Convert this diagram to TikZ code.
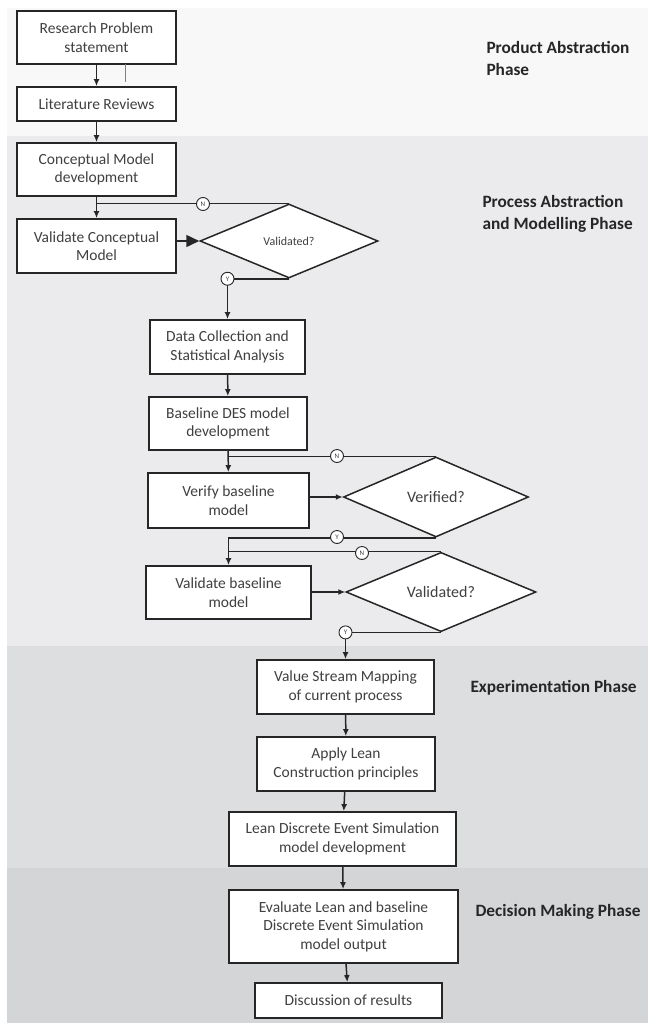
\documentclass[tikz,border=0pt]{standalone}
\usepackage{fontspec}
\setmainfont{Carlito}
\usetikzlibrary{shapes.geometric,arrows.meta,calc}
\definecolor{ink}{HTML}{262626}
\definecolor{txt}{HTML}{404040}
\definecolor{bandA}{HTML}{F8F8F8}
\definecolor{bandB}{HTML}{EBEBED}
\definecolor{bandC}{HTML}{DDDEE0}
\definecolor{bandD}{HTML}{D4D5D7}
\tikzset{
  stepbox/.style={draw=ink, line width=1.8pt, fill=white, text=txt, align=center,
    inner sep=0pt, font=\fontsize{15.5}{18.5}\selectfont},
  decision/.style={diamond, draw=ink, line width=1.5pt, fill=white, text=txt,
    inner sep=0pt, font=\fontsize{16}{18}\selectfont},
  tag/.style={circle, draw=ink, line width=0.9pt, fill=white, text=txt,
    minimum size=13pt, inner sep=0pt, font=\fontsize{7}{8}\selectfont},
  flow/.style={draw=ink, line width=1.5pt, -{Latex[length=7pt,width=6pt]}},
  link/.style={draw=ink, line width=1.5pt},
  phase/.style={anchor=west, align=left, text=ink,
    font=\fontsize{17.3}{22}\selectfont\bfseries},
}
\begin{document}
\begin{tikzpicture}[x=1pt,y=-1pt]
\useasboundingbox (0,0) rectangle (648,1023);
% phase bands
\fill[bandA] (7,8) rectangle (648,136);
\fill[bandB] (7,136) rectangle (648,646);
\fill[bandC] (7,646) rectangle (648,868);
\fill[bandD] (7,868) rectangle (648,1023);

% phase titles
\node[phase] (pA) at (483,58) {Product Abstraction\\Phase};
\node[phase] (pB) at (479,214) {Process Abstraction\\and Modelling Phase};
\node[phase] (pC) at (467,688) {Experimentation Phase};
\node[phase] (pD) at (472,912) {Decision Making Phase};

% process steps
\node[stepbox, minimum width=159pt, minimum height=53pt] (rp) at (96.5,37.5) {Research Problem\\statement};
\node[stepbox, minimum width=159pt, minimum height=34pt] (lr) at (96.5,104) {Literature Reviews};
\node[stepbox, minimum width=159pt, minimum height=53pt] (cm) at (96.5,169.5) {Conceptual Model\\development};
\node[stepbox, minimum width=159pt, minimum height=54pt] (vc) at (96.5,246) {Validate Conceptual\\Model};
\node[decision, minimum width=178pt, minimum height=74pt, font=\fontsize{12}{14}\selectfont] (d1) at (289,241) {Validated?};

\node[stepbox, minimum width=155pt, minimum height=54pt] (dc) at (227.5,347) {Data Collection and\\Statistical Analysis};
\node[stepbox, minimum width=158pt, minimum height=53pt] (bl) at (228,423.5) {Baseline DES model\\development};
\node[stepbox, minimum width=161pt, minimum height=55pt] (vb) at (228.5,500.5) {Verify baseline\\model};
\node[decision, minimum width=185pt, minimum height=80pt] (d2) at (436,497) {Verified?};
\node[stepbox, minimum width=165pt, minimum height=53pt] (vl) at (228.5,592.5) {Validate baseline\\model};
\node[decision, minimum width=190pt, minimum height=78pt] (d3) at (441,592) {Validated?};

\node[stepbox, minimum width=177pt, minimum height=54pt] (vs) at (345.5,687) {Value Stream Mapping\\of current process};
\node[stepbox, minimum width=178pt, minimum height=54pt] (al) at (346,764) {Apply Lean\\Construction principles};
\node[stepbox, minimum width=227pt, minimum height=54pt] (ld) at (342.5,839) {Lean Discrete Event Simulation\\model development};
\node[stepbox, minimum width=229pt, minimum height=73pt] (ev) at (343.5,926.5) {Evaluate Lean and baseline\\Discrete Event Simulation\\model output};
\node[stepbox, minimum width=187pt, minimum height=35pt] (ds) at (348.5,1000.5) {Discussion of results};

% main flow
\path[flow] (rp) -- (lr);
\coordinate (tick) at (125,64);
\draw[gray, line width=0.6pt] (tick) -- ++(0,18);
\path[flow] (lr) -- (cm);
\path[flow] (cm) -- (vc);
\draw[ink, line width=1.5pt, -{Triangle[length=13pt,width=12pt]}] (vc.east |- d1.west) -- (d1.west);

% first check
\path[link] (d1.north) -- (d1.north -| cm.south);
\node[tag] (n1) at (203,204) {N};
\path[flow] (d1.south) -- (d1.south -| dc.north) -- (dc.north);
\node[tag] (y1) at (dc.north |- d1.south) {Y};

\path[flow] (dc) -- (bl);
\path[flow] (bl) -- (vb);
\path[link] (d2.north) -- (d2.north -| bl.south);
\node[tag] (n2) at (337,456) {N};
\path[flow] (vb.east |- d2.west) -- (d2.west);

% second check
\path[flow] (d2.south) -- (d2.south -| vl.north) -- (vl.north);
\node[tag] (y2) at (337,537) {Y};
\path[link] (d3.north) -- (d3.north -| vl.north);
\node[tag] (n3) at (362,553) {N};
\path[flow] (vl.east |- d3.west) -- (d3.west);

% third check
\path[flow] (d3.south) -- (d3.south -| vs.north) -- (vs.north);
\node[tag] (y3) at (vs.north |- d3.south) {Y};

\path[flow] (vs) -- (al);
\path[flow] (al) -- (ld);
\path[flow] (ld) -- (ev);
\path[flow] (ev) -- (ds);
\end{tikzpicture}
\end{document}
